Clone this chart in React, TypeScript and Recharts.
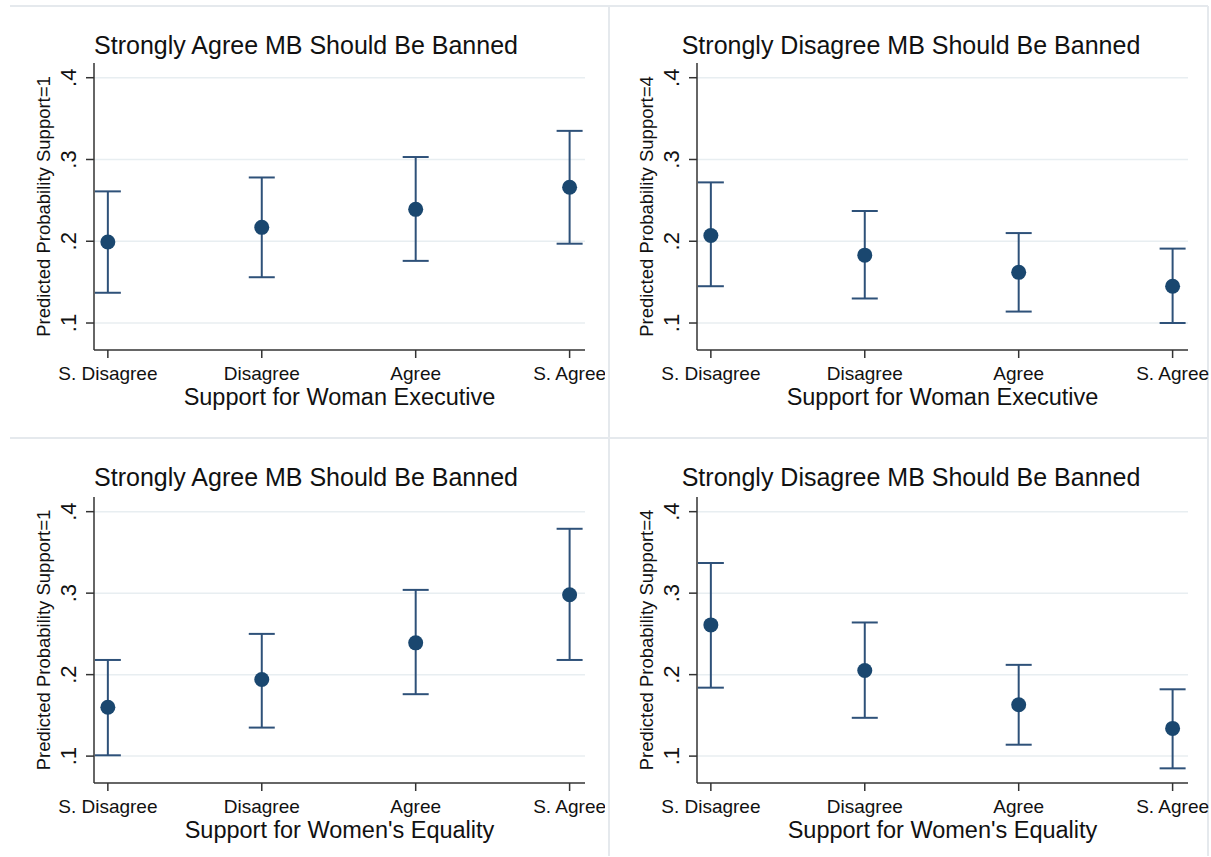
import React from "react";
import { ScatterChart, Scatter, XAxis, YAxis, CartesianGrid, ErrorBar } from "recharts";

const categories = ["S. Disagree", "Disagree", "Agree", "S. Agree"];
const yTicks = [0.1, 0.2, 0.3, 0.4];

// Support for Woman Executive
const execAgreeEst = [0.199, 0.217, 0.239, 0.266];
const execAgreeLo = [0.137, 0.156, 0.176, 0.197];
const execAgreeHi = [0.261, 0.278, 0.303, 0.335];

const execDisagreeEst = [0.207, 0.183, 0.162, 0.145];
const execDisagreeLo = [0.145, 0.130, 0.114, 0.100];
const execDisagreeHi = [0.272, 0.237, 0.210, 0.191];

// Support for Women's Equality
const eqAgreeEst = [0.160, 0.194, 0.239, 0.298];
const eqAgreeLo = [0.101, 0.135, 0.176, 0.218];
const eqAgreeHi = [0.218, 0.250, 0.304, 0.379];

const eqDisagreeEst = [0.261, 0.205, 0.163, 0.134];
const eqDisagreeLo = [0.184, 0.147, 0.114, 0.085];
const eqDisagreeHi = [0.337, 0.264, 0.212, 0.182];

const FONT = "'Liberation Sans', Arial, Helvetica, sans-serif";
const NAVY = "#1a476f";
const BAR = "#2e5179";
const AXIS = "#333";
const GRID = "#e8eef1";
const TEXT = "#111";
const Y_AXIS_W = 60;
const X_AXIS_H = 40;

const fmtY = (v: number) => v.toFixed(1).replace(/^0/, "");

const YTick = (props: any) => {
  const { x, y, payload } = props;
  return (
    <text x={x} y={y} transform={`rotate(-90, ${x}, ${y})`} textAnchor="middle" fontSize={22} fill={TEXT} fontFamily={FONT}>
      {fmtY(payload.value)}
    </text>
  );
};

const Dot = (props: any) => <circle cx={props.cx} cy={props.cy} r={7.5} fill={NAVY} />;

interface PanelProps {
  left: number;
  top: number;
  width: number;
  height: number;
  plot: { top: number; right: number; bottom: number; left: number };
  titleY: number;
  title: string;
  xTitle: string;
  yTitle: string;
  est: number[];
  lo: number[];
  hi: number[];
}

function Panel({ left, top, width, height, plot, titleY, title, xTitle, yTitle, est, lo, hi }: PanelProps) {
  const data = categories.map((c, i) => ({
    x: i + 1,
    y: est[i],
    err: [est[i] - lo[i], hi[i] - est[i]],
  }));
  // plot gives the inner plotting area edges; axes eat into the margins
  const margin = {
    top: plot.top,
    right: plot.right,
    bottom: plot.bottom - X_AXIS_H,
    left: plot.left - Y_AXIS_W,
  };
  const plotMidY = plot.top + (height - plot.top - plot.bottom) / 2;
  return (
    <div style={{ position: "absolute", left, top, width, height }}>
      <ScatterChart width={width} height={height} margin={margin}>
        <CartesianGrid vertical={false} horizontalValues={yTicks} stroke={GRID} strokeWidth={1.5} />
        <XAxis
          type="number"
          dataKey="x"
          domain={[0.91, 4.1]}
          ticks={[1, 2, 3, 4]}
          allowDataOverflow
          interval={0}
          height={X_AXIS_H}
          tickSize={8}
          tickMargin={9}
          stroke={AXIS}
          strokeWidth={1.5}
          tick={{ fill: TEXT, fontSize: 19, fontFamily: FONT }}
          tickFormatter={(v: number) => categories[v - 1]}
          label={{ value: xTitle, position: "bottom", offset: 38 - X_AXIS_H, fill: TEXT, fontSize: 23.5, fontFamily: FONT }}
        />
        <YAxis
          type="number"
          dataKey="y"
          domain={[0.067, 0.418]}
          ticks={yTicks}
          allowDataOverflow
          interval={0}
          width={Y_AXIS_W}
          tickSize={8}
          tickMargin={10}
          stroke={AXIS}
          strokeWidth={1.5}
          tick={<YTick />}
        />
        <Scatter data={data} shape={<Dot />} isAnimationActive={false}>
          <ErrorBar dataKey="err" direction="y" width={13} stroke={BAR} strokeWidth={2} />
        </Scatter>
      </ScatterChart>
      <svg width={width} height={height} style={{ position: "absolute", left: 0, top: 0, pointerEvents: "none" }}>
        <text x={306} y={titleY} textAnchor="middle" fontSize={25} fill={TEXT} fontFamily={FONT}>
          {title}
        </text>
        <text
          x={plot.left - 44}
          y={plotMidY}
          transform={`rotate(-90, ${plot.left - 44}, ${plotMidY})`}
          textAnchor="middle"
          fontSize={18.5}
          fill={TEXT}
          fontFamily={FONT}
        >
          {yTitle}
        </text>
      </svg>
    </div>
  );
}

export default function App() {
  const topPlot = { top: 63, right: 20, bottom: 86, left: 94 };
  const topPlotR = { top: 63, right: 23, bottom: 86, left: 92 };
  const botPlot = { top: 61, right: 20, bottom: 74, left: 94 };
  const botPlotR = { top: 61, right: 23, bottom: 74, left: 92 };
  return (
    <div style={{ position: "absolute", left: 0, top: 0, width: 1211, height: 857, background: "#fff", overflow: "hidden" }}>
      <svg width={1211} height={857} style={{ position: "absolute", left: 0, top: 0 }}>
        <g stroke="#e5e9ed" strokeWidth={2} fill="none">
          <line x1={10} y1={6} x2={1208} y2={6} />
          <line x1={10} y1={438} x2={1208} y2={438} />
          <line x1={609} y1={6} x2={609} y2={856} />
          <line x1={1208} y1={6} x2={1208} y2={856} />
        </g>
      </svg>
      <Panel
        left={0}
        top={0}
        width={605}
        height={436}
        plot={topPlot}
        titleY={54}
        title="Strongly Agree MB Should Be Banned"
        xTitle="Support for Woman Executive"
        yTitle="Predicted Probability Support=1"
        est={execAgreeEst}
        lo={execAgreeLo}
        hi={execAgreeHi}
      />
      <Panel
        left={605}
        top={0}
        width={606}
        height={436}
        plot={topPlotR}
        titleY={54}
        title="Strongly Disagree MB Should Be Banned"
        xTitle="Support for Woman Executive"
        yTitle="Predicted Probability Support=4"
        est={execDisagreeEst}
        lo={execDisagreeLo}
        hi={execDisagreeHi}
      />
      <Panel
        left={0}
        top={436}
        width={605}
        height={421}
        plot={botPlot}
        titleY={50}
        title="Strongly Agree MB Should Be Banned"
        xTitle="Support for Women's Equality"
        yTitle="Predicted Probability Support=1"
        est={eqAgreeEst}
        lo={eqAgreeLo}
        hi={eqAgreeHi}
      />
      <Panel
        left={605}
        top={436}
        width={606}
        height={421}
        plot={botPlotR}
        titleY={50}
        title="Strongly Disagree MB Should Be Banned"
        xTitle="Support for Women's Equality"
        yTitle="Predicted Probability Support=4"
        est={eqDisagreeEst}
        lo={eqDisagreeLo}
        hi={eqDisagreeHi}
      />
    </div>
  );
}
